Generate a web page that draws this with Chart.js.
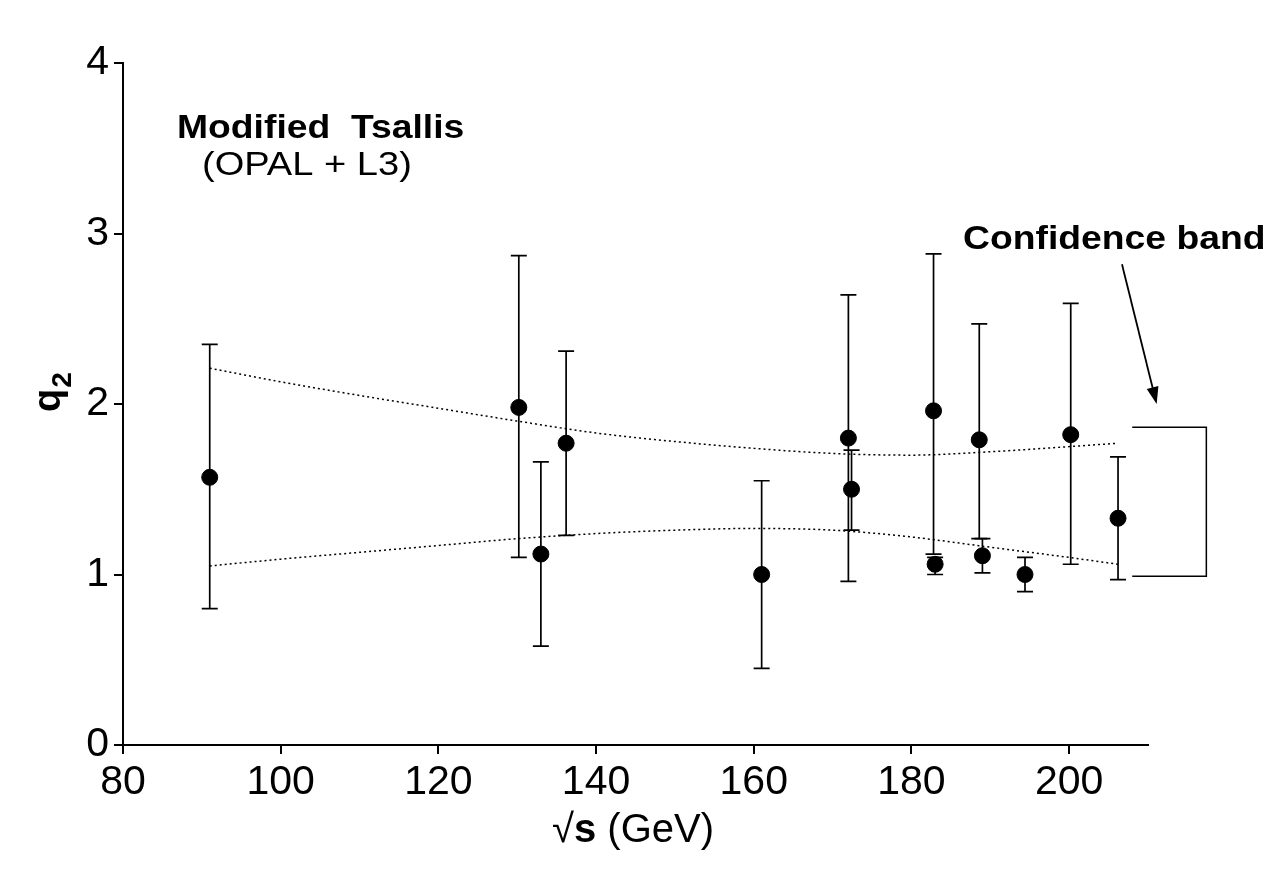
<!DOCTYPE html>
<html>
<head>
<meta charset="utf-8">
<script src="https://cdn.jsdelivr.net/npm/chart.js@4.4.1/dist/chart.umd.min.js"></script>
<style>
  body { margin: 0; background: #fff; }
  #box { width: 1286px; height: 887px; }
</style>
</head>
<body>
<div id="box"><canvas id="grafico"></canvas></div>
<script>
// sqrt(s) in GeV, q2 and its error bar ends
var energy  = [91.0, 130.2, 133.0, 136.2, 161.0, 172.0, 172.4, 182.8, 183.0, 188.6, 189.0, 194.4, 200.2, 206.2];
var q2      = [1.57, 1.98, 1.12, 1.77, 1.00, 1.80, 1.50, 1.96, 1.06, 1.79, 1.11, 1.00, 1.82, 1.33];
var q2Upper = [2.35, 2.87, 1.66, 2.31, 1.55, 2.64, 1.73, 2.88, 1.10, 2.47, 1.21, 1.10, 2.59, 1.69];
var q2Lower = [0.80, 1.10, 0.58, 1.23, 0.45, 0.96, 1.26, 1.12, 1.00, 1.21, 1.01, 0.90, 1.06, 0.97];

// confidence band (dotted curves)
var bandX     = [91, 100, 110, 120, 130, 140, 150, 160, 170, 180, 190, 200, 206.2];
var bandUpper = [2.21, 2.13, 2.05, 1.975, 1.90, 1.83, 1.78, 1.74, 1.71, 1.70, 1.72, 1.75, 1.77];
var bandLower = [1.05, 1.09, 1.13, 1.17, 1.21, 1.24, 1.26, 1.27, 1.26, 1.22, 1.16, 1.10, 1.06];

var xTicks = [80, 100, 120, 140, 160, 180, 200];
var yTicks = [0, 1, 2, 3, 4];

var FONT = "'Liberation Sans', Arial, sans-serif";

function pts(xs, ys) {
    return xs.map(function (v, i) { return { x: v, y: ys[i] }; });
}

function stretchText(ctx, text, x, y, font, sx) {
    ctx.save();
    ctx.font = font;
    ctx.translate(x, y);
    ctx.scale(sx, 1);
    ctx.textBaseline = 'alphabetic';
    ctx.textAlign = 'left';
    ctx.fillText(text, 0, 0);
    ctx.restore();
}

var decorations = {
    id: 'decorations',
    beforeDatasetsDraw: function (chart) {
        var ctx = chart.ctx, xs = chart.scales.x, ys = chart.scales.y;
        ctx.save();
        ctx.strokeStyle = '#000';
        ctx.lineWidth = 1.7;
        for (var i = 0; i < energy.length; i++) {
            var px = xs.getPixelForValue(energy[i]);
            var top = ys.getPixelForValue(q2Upper[i]);
            var bot = ys.getPixelForValue(q2Lower[i]);
            ctx.beginPath();
            ctx.moveTo(px, top); ctx.lineTo(px, bot);
            ctx.moveTo(px - 8, top); ctx.lineTo(px + 8, top);
            ctx.moveTo(px - 8, bot); ctx.lineTo(px + 8, bot);
            ctx.stroke();
        }
        ctx.restore();
    },
    afterDraw: function (chart) {
        var ctx = chart.ctx, xs = chart.scales.x, ys = chart.scales.y;
        ctx.save();
        ctx.fillStyle = '#000';
        ctx.strokeStyle = '#000';

        stretchText(ctx, 'Modified  Tsallis', 177, 138, 'bold 33px ' + FONT, 1.13);
        stretchText(ctx, '(OPAL + L3)', 202, 175, '34px ' + FONT, 1.12);
        stretchText(ctx, 'Confidence band', 963, 249, 'bold 33px ' + FONT, 1.13);

        // bracket around band end
        var bx0 = xs.getPixelForValue(208.0), bx1 = xs.getPixelForValue(217.4);
        var by0 = ys.getPixelForValue(1.863), by1 = ys.getPixelForValue(0.99);
        ctx.lineWidth = 1.5;
        ctx.beginPath();
        ctx.moveTo(bx0, by0); ctx.lineTo(bx1, by0); ctx.lineTo(bx1, by1); ctx.lineTo(bx0, by1);
        ctx.stroke();

        // arrow
        var ax0 = xs.getPixelForValue(206.7), ay0 = ys.getPixelForValue(2.82);
        var ax1 = xs.getPixelForValue(211.1), ay1 = ys.getPixelForValue(2.0);
        var ang = Math.atan2(ay1 - ay0, ax1 - ax0);
        ctx.lineWidth = 1.8;
        ctx.beginPath();
        ctx.moveTo(ax0, ay0);
        ctx.lineTo(ax1 - 14 * Math.cos(ang), ay1 - 14 * Math.sin(ang));
        ctx.stroke();
        ctx.beginPath();
        ctx.moveTo(ax1, ay1);
        ctx.lineTo(ax1 - 17 * Math.cos(ang) + 6 * Math.sin(ang), ay1 - 17 * Math.sin(ang) - 6 * Math.cos(ang));
        ctx.lineTo(ax1 - 17 * Math.cos(ang) - 6 * Math.sin(ang), ay1 - 17 * Math.sin(ang) + 6 * Math.cos(ang));
        ctx.closePath();
        ctx.fill();

        // y title q2
        ctx.save();
        ctx.translate(60, 412);
        ctx.rotate(-Math.PI / 2);
        ctx.textBaseline = 'alphabetic';
        ctx.font = 'bold 38px ' + FONT;
        ctx.fillText('q', 0, 0);
        var qw = ctx.measureText('q').width;
        ctx.font = 'bold 28px ' + FONT;
        ctx.fillText('2', qw + 1, 11);
        ctx.restore();

        // x title
        var x0 = 552, yb = 842;
        ctx.textBaseline = 'alphabetic';
        ctx.font = '40px ' + FONT;
        ctx.fillText('\u221A', x0, yb);
        x0 += ctx.measureText('\u221A').width;
        ctx.font = 'bold 40px ' + FONT;
        ctx.fillText('s', x0, yb);
        x0 += ctx.measureText('s').width;
        ctx.font = '40px ' + FONT;
        ctx.fillText(' (GeV)', x0, yb);

        ctx.restore();
    }
};

var data = {
    datasets: [{
        type: 'scatter',
        label: 'q2',
        data: pts(energy, q2),
        backgroundColor: '#000',
        borderColor: '#000',
        pointRadius: 8,
        pointHoverRadius: 8
    }, {
        type: 'line',
        label: 'upper band',
        data: pts(bandX, bandUpper),
        borderColor: '#000',
        borderWidth: 1.5,
        borderDash: [2, 3],
        pointRadius: 0,
        fill: false,
        cubicInterpolationMode: 'monotone'
    }, {
        type: 'line',
        label: 'lower band',
        data: pts(bandX, bandLower),
        borderColor: '#000',
        borderWidth: 1.5,
        borderDash: [2, 3],
        pointRadius: 0,
        fill: false,
        cubicInterpolationMode: 'monotone'
    }]
};

var options = {
    responsive: true,
    maintainAspectRatio: false,
    animation: false,
    layout: { padding: { left: 0, right: 138, top: 63, bottom: 0 } },
    plugins: { legend: { display: false }, tooltip: { enabled: false } },
    scales: {
        x: {
            type: 'linear',
            min: 80,
            max: 210,
            afterBuildTicks: function (s) { s.ticks = xTicks.map(function (v) { return { value: v }; }); },
            afterFit: function (s) { s.height = 142; },
            border: { display: true, color: '#000', width: 2 },
            grid: { drawOnChartArea: false, drawTicks: true, tickLength: 9, color: '#000', lineWidth: 2 },
            ticks: { color: '#000', padding: 4, font: { family: FONT, size: 41 }, maxRotation: 0 }
        },
        y: {
            min: 0,
            max: 4,
            afterBuildTicks: function (s) { s.ticks = yTicks.map(function (v) { return { value: v }; }); },
            afterFit: function (s) { s.width = 123; },
            border: { display: true, color: '#000', width: 2 },
            grid: { drawOnChartArea: false, drawTicks: true, tickLength: 9, color: '#000', lineWidth: 2 },
            ticks: { color: '#000', padding: 5, font: { family: FONT, size: 41 } }
        }
    }
};

var ctx = document.querySelector('#grafico').getContext('2d');
var chart = new Chart(ctx, {
    type: 'scatter',
    data: data,
    options: options,
    plugins: [decorations]
});
</script>
</body>
</html>
